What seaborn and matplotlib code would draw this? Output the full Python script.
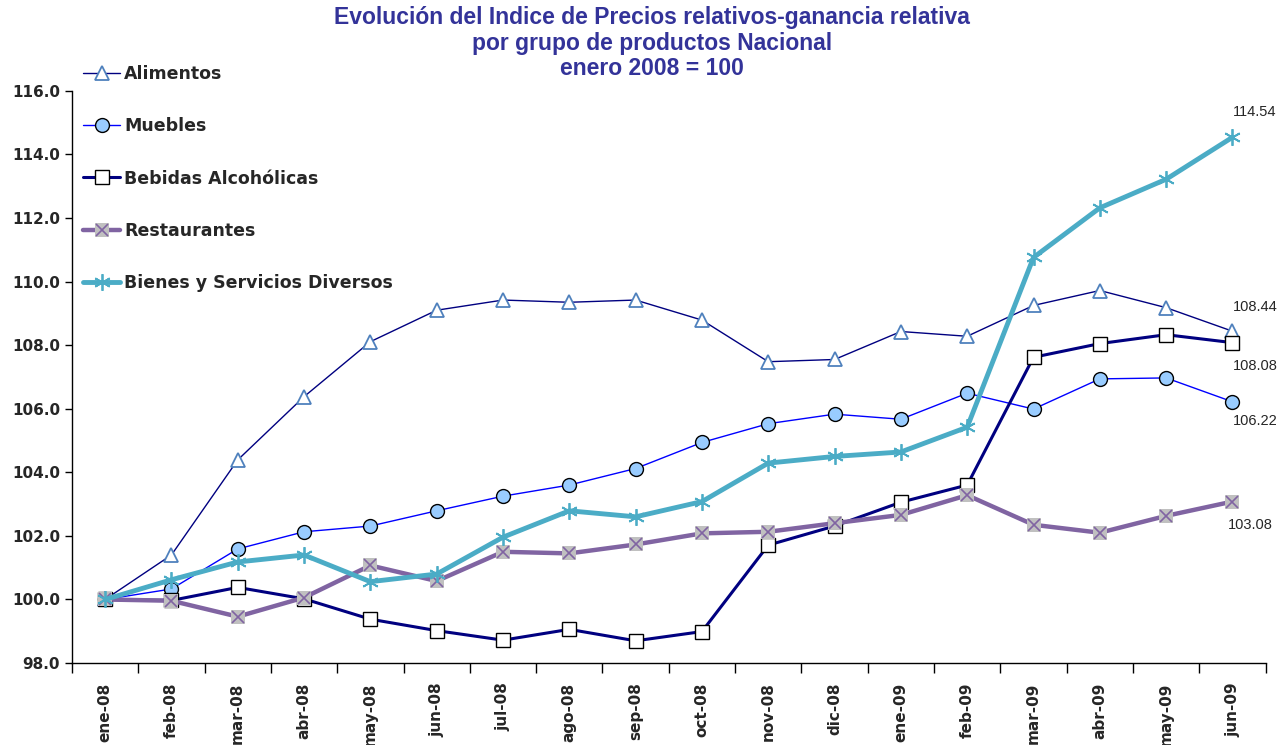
import numpy as np
import pandas as pd
import matplotlib
matplotlib.use("Agg")
import matplotlib.pyplot as plt
import seaborn as sns
from matplotlib.ticker import FormatStrFormatter, FixedLocator

sns.set_style("white")
plt.rcParams["font.family"] = ["DejaVu Sans"]

months = ["ene-08", "feb-08", "mar-08", "abr-08", "may-08", "jun-08", "jul-08",
          "ago-08", "sep-08", "oct-08", "nov-08", "dic-08", "ene-09", "feb-09",
          "mar-09", "abr-09", "may-09", "jun-09"]

alimentos = [100.0, 101.40, 104.39, 106.38, 108.11, 109.10, 109.42, 109.35, 109.42,
             108.79, 107.48, 107.55, 108.43, 108.28, 109.25, 109.72, 109.18, 108.44]
muebles = [100.0, 100.33, 101.59, 102.13, 102.31, 102.79, 103.25, 103.60, 104.12,
           104.94, 105.53, 105.83, 105.67, 106.49, 105.99, 106.94, 106.97, 106.22]
bebidas = [100.0, 99.97, 100.38, 100.02, 99.38, 99.02, 98.72, 99.06, 98.70,
           98.99, 101.71, 102.31, 103.06, 103.60, 107.62, 108.05, 108.33, 108.08]
restaurantes = [100.0, 99.96, 99.46, 100.06, 101.07, 100.58, 101.50, 101.45, 101.73,
                102.08, 102.13, 102.40, 102.66, 103.28, 102.35, 102.10, 102.63, 103.08]
bienes = [100.0, 100.62, 101.18, 101.40, 100.56, 100.80, 101.96, 102.79, 102.60,
          103.08, 104.29, 104.50, 104.64, 105.42, 110.76, 112.32, 113.22, 114.54]

df = pd.DataFrame({"mes": months, "Alimentos": alimentos, "Muebles": muebles,
                   "Bebidas Alcohólicas": bebidas, "Restaurantes": restaurantes,
                   "Bienes y Servicios Diversos": bienes})

fig = plt.figure(figsize=(12.78, 7.45), dpi=100)
ax = fig.add_axes([0.0563, 0.110, 0.934, 0.768])

asterisk = (6, 2, 0)

sns.lineplot(data=df, x="mes", y="Alimentos", ax=ax, sort=False, estimator=None,
             color="#000080", lw=1.0, marker="^", ms=9.5, mfc="white",
             mec="#4F81BD", mew=1.3, zorder=3)
sns.lineplot(data=df, x="mes", y="Muebles", ax=ax, sort=False, estimator=None,
             color="#0000FF", lw=1.0, marker="o", ms=10, mfc="#99CCFF",
             mec="black", mew=1.0, zorder=4)
sns.lineplot(data=df, x="mes", y="Bebidas Alcohólicas", ax=ax, sort=False,
             estimator=None, color="#000080", lw=2.2, marker="s", ms=9.5,
             mfc="white", mec="black", mew=1.0, zorder=5)
sns.lineplot(data=df, x="mes", y="Restaurantes", ax=ax, sort=False, estimator=None,
             color="#8064A2", lw=3.2, marker="s", ms=9.5, mfc="#C0C0C0",
             mec="#C0C0C0", mew=0, zorder=6)
ax.plot(df["mes"], df["Restaurantes"], ls="none", marker="x", ms=8.5,
        mec="#8064A2", mew=1.2, zorder=7)
sns.lineplot(data=df, x="mes", y="Bienes y Servicios Diversos", ax=ax, sort=False,
             estimator=None, color="#4BACC6", lw=3.5, marker=asterisk, ms=12,
             mec="#4BACC6", mew=1.3, zorder=8)

# etiquetas del ultimo valor
last = len(months) - 1
offsets = {"Bienes y Servicios Diversos": (0, 18), "Alimentos": (0, 17.5),
           "Bebidas Alcohólicas": (0, -16.5), "Muebles": (0, -14),
           "Restaurantes": (-3.5, -17)}
for col, (dx, dy) in offsets.items():
    v = df[col].iloc[last]
    ax.annotate(f"{v:.2f}", (last, v), xytext=(dx, dy), textcoords="offset points",
                ha="left", va="center", fontsize=10.5, family="Liberation Sans",
                annotation_clip=False)

ax.set_ylim(98, 116)
ax.set_xlim(-0.5, len(months) - 0.5)
ax.set_yticks(np.arange(98, 117, 2))
ax.yaxis.set_major_formatter(FormatStrFormatter("%.1f"))
ax.set_xticks(range(len(months)))
ax.set_xticklabels(months, rotation=90, fontsize=11, fontweight="bold")
ax.xaxis.set_minor_locator(FixedLocator(np.arange(-0.5, len(months), 1)))
ax.tick_params(axis="x", which="major", length=0, pad=14)
ax.tick_params(axis="x", which="minor", length=7, width=1, color="black",
               direction="out", bottom=True)
ax.tick_params(axis="y", length=5, width=1, color="black", direction="out",
               left=True, labelsize=11)
for lab in ax.get_yticklabels():
    lab.set_fontweight("bold")
ax.set_xlabel("")
ax.set_ylabel("")
for s in ["top", "right"]:
    ax.spines[s].set_visible(False)
for s in ["left", "bottom"]:
    ax.spines[s].set_color("black")
    ax.spines[s].set_linewidth(1.0)

# leyenda
h = ax.get_lines()
handles = [h[0], h[1], h[2], (h[3], h[4]), h[5]]
labels = ["Alimentos", "Muebles", "Bebidas Alcohólicas", "Restaurantes",
          "Bienes y Servicios Diversos"]
fig.legend(handles, labels, loc="upper left", bbox_to_anchor=(0.065, 0.9126),
           frameon=False, borderpad=0, borderaxespad=0, handlelength=2.13,
           handletextpad=0.23, labelspacing=1.97,
           prop={"weight": "bold", "size": 12.5})

fig.text(0.51, 0.942, "Evolución del Indice de Precios relativos-ganancia relativa\n"
         "por grupo de productos Nacional\nenero 2008 = 100",
         ha="center", va="center", fontsize=16.5, fontweight="bold",
         color="#333399", family="Liberation Sans", linespacing=1.13)

fig.savefig("out.png", dpi=100)
